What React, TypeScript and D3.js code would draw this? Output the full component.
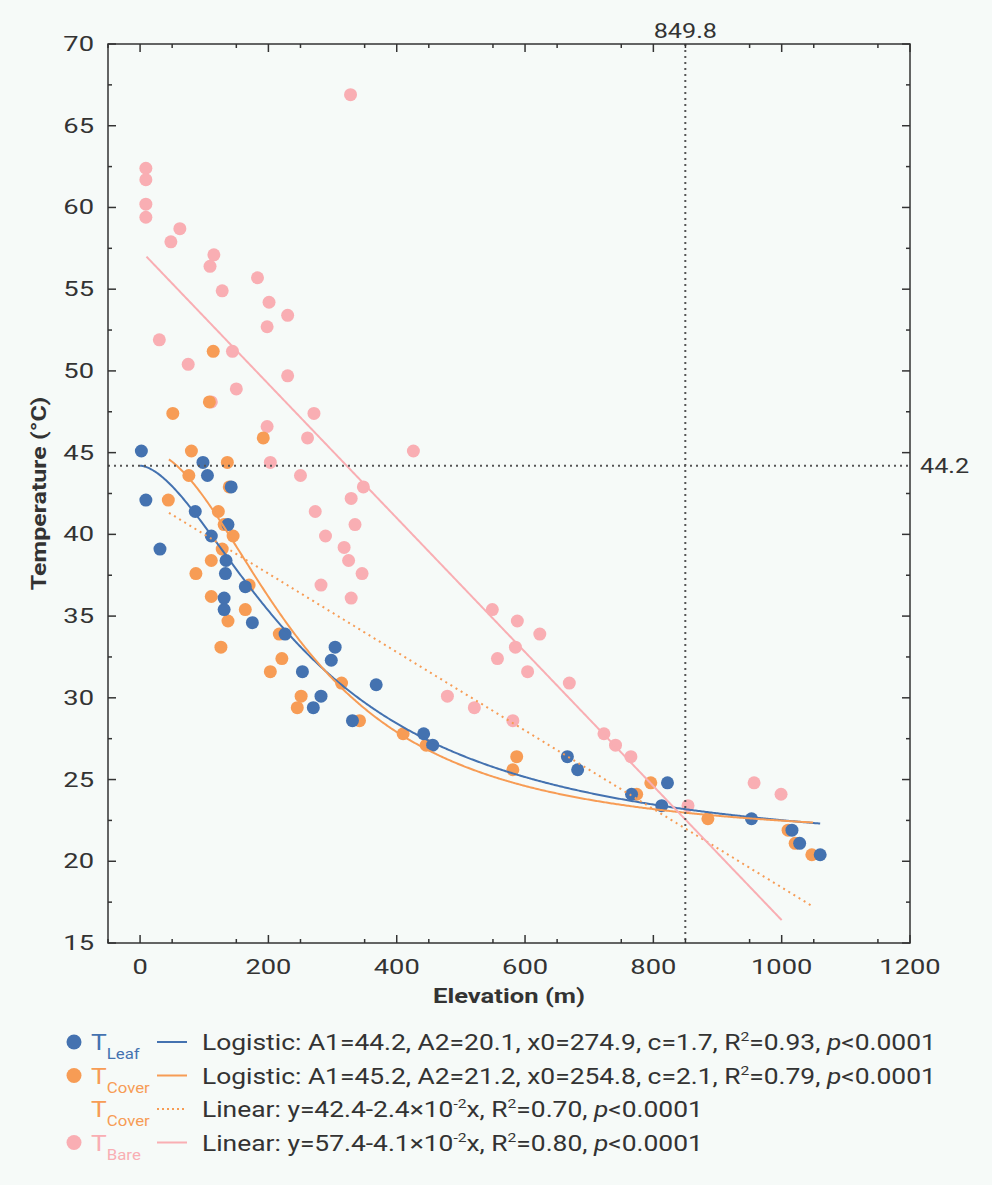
import React from 'react';
import * as d3 from 'd3';

const leafPts: [number, number][] = [
  [2, 45.1], [9, 42.1], [31, 39.1], [86, 41.4], [98, 44.4], [105, 43.6], [142, 42.9], [111, 39.9],
  [137, 40.6], [134, 38.4], [133, 37.6], [131, 36.1], [131, 35.4], [175, 34.6], [164, 36.8],
  [226, 33.9], [253, 31.6], [298, 32.3], [304, 33.1], [282, 30.1], [270, 29.4], [331, 28.6],
  [368, 30.8], [442, 27.8], [456, 27.1], [666, 26.4], [682, 25.6], [766, 24.1], [813, 23.4],
  [822, 24.8], [953, 22.6], [1016, 21.9], [1028, 21.1], [1060, 20.4],
];
const coverPts: [number, number][] = [
  [44, 42.1], [51, 47.4], [80, 45.1], [76, 43.6], [114, 51.2], [108, 48.1], [136, 44.4], [139, 42.9],
  [122, 41.4], [131, 40.6], [145, 39.9], [128, 39.1], [111, 38.4], [87, 37.6], [170, 36.9],
  [111, 36.2], [164, 35.4], [137, 34.7], [126, 33.1], [217, 33.9], [221, 32.4], [203, 31.6],
  [251, 30.1], [245, 29.4], [314, 30.9], [342, 28.6], [410, 27.8], [446, 27.1], [587, 26.4],
  [581, 25.6], [774, 24.1], [796, 24.8], [885, 22.6], [1010, 21.9], [1021, 21.1], [1047, 20.4],
  [192, 45.9],
];
const barePts: [number, number][] = [
  [328, 66.9], [9, 62.4], [9, 61.7], [9, 60.2], [9, 59.4], [62, 58.7], [48, 57.9], [115, 57.1],
  [109, 56.4], [128, 54.9], [183, 55.7], [201, 54.2], [230, 53.4], [198, 52.7], [30, 51.9],
  [144, 51.2], [75, 50.4], [230, 49.7], [150, 48.9], [111, 48.1], [271, 47.4], [198, 46.6],
  [261, 45.9], [203, 44.4], [426, 45.1], [348, 42.9], [329, 42.2], [250, 43.6], [335, 40.6],
  [273, 41.4], [289, 39.9], [318, 39.2], [325, 38.4], [346, 37.6], [282, 36.9], [329, 36.1],
  [549, 35.4], [588, 34.7], [623, 33.9], [585, 33.1], [557, 32.4], [604, 31.6], [669, 30.9],
  [479, 30.1], [521, 29.4], [581, 28.6], [723, 27.8], [741, 27.1], [765, 26.4], [957, 24.8],
  [999, 24.1], [854, 23.4],
];

const xTicks = [0, 200, 400, 600, 800, 1000, 1200];
const yTicks = [15, 20, 25, 30, 35, 40, 45, 50, 55, 60, 65, 70];
const refX = 849.8;
const refY = 44.2;

const BLUE = '#4472b0';
const ORANGE = '#f79c55';
const PINK = '#f9aeb3';
const AX = '#333';

const logistic = (A1: number, A2: number, x0: number, c: number) => (x: number) =>
  A2 + (A1 - A2) / (1 + Math.pow(Math.max(x, 0) / x0, c));
const linear = (a: number, b: number) => (x: number) => a + b * x;

const fits = [
  { f: logistic(44.2, 20.1, 274.9, 1.7), from: 0, to: 1060, color: BLUE, dash: '' },
  { f: logistic(45.2, 21.2, 254.8, 2.1), from: 45, to: 1050, color: ORANGE, dash: '' },
  { f: linear(42.4, -0.024), from: 45, to: 1050, color: ORANGE, dash: '2,4' },
  { f: linear(57.4, -0.041), from: 10, to: 1000, color: PINK, dash: '' },
];

const legend = [
  { sub: 'Leaf', color: BLUE, dot: true, dash: '', text: ['Logistic: A1=44.2, A2=20.1, x0=274.9, c=1.7, R', '=0.93, '] },
  { sub: 'Cover', color: ORANGE, dot: true, dash: '', text: ['Logistic: A1=45.2, A2=21.2, x0=254.8, c=2.1, R', '=0.79, '] },
  { sub: 'Cover', color: ORANGE, dot: false, dash: '2,3', text: ['Linear: y=42.4-2.4×10', '-2', 'x, R', '=0.70, '] },
  { sub: 'Bare', color: PINK, dot: true, dash: '', text: ['Linear: y=57.4-4.1×10', '-2', 'x, R', '=0.80, '] },
];

// horizontal stretch so glyph widths match the reference
const SX = 1.2;
const st = (px: number, py: number, sx = SX) => `translate(${px},${py}) scale(${sx},1)`;

export default function App() {
  const W = 992, H = 1185;
  const L = 108, R = 910, T = 44, B = 943;
  const x = d3.scaleLinear().domain([-50, 1200]).range([L, R]);
  const y = d3.scaleLinear().domain([15, 70]).range([B, T]);
  const font = 'Roboto, "Noto Sans", sans-serif';

  const minorX = d3.range(-50, 1201, 100).filter(v => !xTicks.includes(v));
  const minorY = d3.range(17.5, 70, 5);

  const line = (fn: (x: number) => number, a: number, b: number) =>
    d3.line<number>().x(v => x(v)).y(v => y(fn(v)))(d3.range(a, b + 0.1, 2))!;

  const dots = (pts: [number, number][], c: string) =>
    pts.map((p, i) => <circle key={i} cx={x(p[0])} cy={y(p[1])} r={6.5} fill={c} />);

  return (
    <div style={{ position: 'absolute', left: 0, top: 0 }}>
      <svg width={W} height={H} style={{ display: 'block', background: '#f6faf8' }} fontFamily={font}>
        {dots(barePts, PINK)}
        {dots(coverPts, ORANGE)}
        {dots(leafPts, BLUE)}
        {fits.map((d, i) => (
          <path key={i} d={line(d.f, d.from, d.to)} fill="none" stroke={d.color} strokeWidth={2} strokeDasharray={d.dash} />
        ))}
        <line x1={x(refX)} x2={x(refX)} y1={T} y2={B} stroke="#555" strokeWidth={2} strokeDasharray="2,4" />
        <line x1={L} x2={R} y1={y(refY)} y2={y(refY)} stroke="#555" strokeWidth={2} strokeDasharray="2,4" />
        <text transform={st(x(refX), T - 6)} textAnchor="middle" fontSize={21} fill={AX}>{refX.toFixed(1)}</text>
        <text transform={st(R + 10, y(refY) + 7)} fontSize={21} fill={AX}>{refY.toFixed(1)}</text>

        <rect x={L} y={T} width={R - L} height={B - T} fill="none" stroke={AX} strokeWidth={1.5} />
        {xTicks.map(v => (
          <g key={v}>
            <line x1={x(v)} x2={x(v)} y1={B} y2={B - 8} stroke={AX} strokeWidth={1.5} />
            <line x1={x(v)} x2={x(v)} y1={T} y2={T + 8} stroke={AX} strokeWidth={1.5} />
            <text transform={st(x(v), B + 31, 1.3)} textAnchor="middle" fontSize={21} fill={AX}>{v}</text>
          </g>
        ))}
        {minorX.map(v => (
          <g key={v}>
            <line x1={x(v)} x2={x(v)} y1={B} y2={B - 4} stroke={AX} strokeWidth={1.5} />
            <line x1={x(v)} x2={x(v)} y1={T} y2={T + 4} stroke={AX} strokeWidth={1.5} />
          </g>
        ))}
        {yTicks.map(v => (
          <g key={v}>
            <line x1={L} x2={L + 8} y1={y(v)} y2={y(v)} stroke={AX} strokeWidth={1.5} />
            <line x1={R} x2={R - 8} y1={y(v)} y2={y(v)} stroke={AX} strokeWidth={1.5} />
            <text transform={st(L - 14, y(v) + 7, 1.3)} textAnchor="end" fontSize={21} fill={AX}>{v}</text>
          </g>
        ))}
        {minorY.map(v => (
          <g key={v}>
            <line x1={L} x2={L + 4} y1={y(v)} y2={y(v)} stroke={AX} strokeWidth={1.5} />
            <line x1={R} x2={R - 4} y1={y(v)} y2={y(v)} stroke={AX} strokeWidth={1.5} />
          </g>
        ))}
        <text transform={st((L + R) / 2, 1003, 1.28)} textAnchor="middle" fontSize={20} fontWeight="bold" fill={AX}>Elevation (m)</text>
        <text transform={`translate(46,${(T + B) / 2}) rotate(-90) scale(1.25,1)`} textAnchor="middle" fontSize={20} fontWeight="bold" fill={AX}>Temperature (°C)</text>

        {legend.map((d, i) => {
          const yy = 1042 + i * 33.5;
          const lin = d.text.length === 4;
          return (
            <g key={i}>
              {d.dot && <circle cx={74} cy={yy} r={7.5} fill={d.color} />}
              <text transform={st(91, yy + 8)} fontSize={22} fill={d.color}>T
                <tspan fontSize={14} dy={9}>{d.sub}</tspan>
              </text>
              <line x1={157} x2={187} y1={yy} y2={yy} stroke={d.color} strokeWidth={2} strokeDasharray={d.dash} />
              <text transform={st(202, yy + 8)} fontSize={22} fill={AX}>
                {lin ? (
                  <>
                    {d.text[0]}<tspan fontSize={13} dy={-9}>{d.text[1]}</tspan>
                    <tspan dy={9}>{d.text[2]}</tspan><tspan fontSize={13} dy={-9}>2</tspan>
                    <tspan dy={9}>{d.text[3]}</tspan>
                  </>
                ) : (
                  <>
                    {d.text[0]}<tspan fontSize={13} dy={-9}>2</tspan>
                    <tspan dy={9}>{d.text[1]}</tspan>
                  </>
                )}
                <tspan fontStyle="italic">p</tspan>{'<0.0001'}
              </text>
            </g>
          );
        })}
      </svg>
    </div>
  );
}
